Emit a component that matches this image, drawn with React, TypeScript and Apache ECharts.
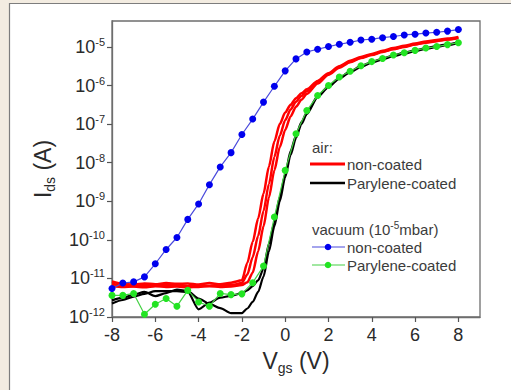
import React, { useEffect, useRef } from 'react';
import * as echarts from 'echarts';

// Gate voltage grids (V)
const VAC_VGS = [-8, -7.5, -7, -6.5, -6, -5.5, -5, -4.5, -4, -3.5, -3, -2.5, -2, -1.5, -1, -0.5, 0, 0.5, 1, 1.5, 2, 2.5, 3, 3.5, 4, 4.5, 5, 5.5, 6, 6.5, 7, 7.5, 8];
const AIR_VGS = [-8, -7.5, -7, -6.5, -6, -5.5, -5, -4.5, -4, -3.5, -3, -2.5, -2, -1.75, -1.5, -1.25, -1, -0.75, -0.5, -0.25, 0, 0.25, 0.5, 0.75, 1, 1.5, 2, 2.5, 3, 3.5, 4, 4.5, 5, 5.5, 6, 6.5, 7, 7.5, 8];

// log10(Ids / A)
const VAC_NONCOATED_LOG = [-11.26, -11.12, -11.09, -10.96, -10.62, -10.25, -9.94, -9.47, -9.07, -8.57, -8.11, -7.74, -7.27, -6.87, -6.43, -6.02, -5.62, -5.31, -5.13, -5.06, -4.99, -4.93, -4.88, -4.82, -4.80, -4.76, -4.73, -4.69, -4.67, -4.64, -4.62, -4.59, -4.55];
const VAC_PARYLENE_LOG = [-11.44, -11.44, -11.39, -11.93, -11.67, -11.52, -11.72, -11.31, -11.61, -11.72, -11.39, -11.42, -11.40, -11.11, -10.68, -9.41, -8.20, -7.25, -6.65, -6.26, -6.00, -5.78, -5.63, -5.49, -5.38, -5.30, -5.21, -5.15, -5.09, -5.03, -4.99, -4.94, -4.89];

const AIR_NONCOATED_A_LOG = [-11.08, -11.14, -11.16, -11.13, -11.15, -11.12, -11.14, -11.13, -11.16, -11.12, -11.15, -11.11, -11.05, -10.6, -10.05, -9.45, -8.8, -8.1, -7.45, -7.0, -6.7, -6.5, -6.33, -6.2, -6.1, -5.88, -5.68, -5.5, -5.36, -5.26, -5.18, -5.1, -5.03, -4.97, -4.91, -4.86, -4.82, -4.78, -4.74];
const AIR_NONCOATED_B_LOG = [-11.14, -11.18, -11.2, -11.17, -11.19, -11.17, -11.18, -11.2, -11.18, -11.19, -11.17, -11.18, -11.12, -10.9, -10.45, -9.9, -9.25, -8.55, -7.85, -7.3, -6.9, -6.62, -6.42, -6.27, -6.15, -5.91, -5.7, -5.52, -5.38, -5.28, -5.2, -5.12, -5.05, -4.99, -4.93, -4.88, -4.84, -4.8, -4.76];
const AIR_NONCOATED_C_LOG = [-11.2, -11.22, -11.21, -11.23, -11.2, -11.22, -11.21, -11.23, -11.22, -11.2, -11.22, -11.21, -11.17, -11.1, -10.85, -10.3, -9.65, -8.9, -8.2, -7.6, -7.15, -6.8, -6.55, -6.37, -6.22, -5.95, -5.72, -5.54, -5.4, -5.29, -5.21, -5.13, -5.06, -5.0, -4.94, -4.89, -4.85, -4.81, -4.77];
const AIR_PARYLENE_A_LOG = [-11.65, -11.56, -11.47, -11.4, -11.33, -11.33, -11.33, -11.35, -11.8, -11.63, -11.5, -11.45, -11.38, -11.31, -11.2, -11.05, -10.75, -10.1, -9.55, -8.9, -8.3, -7.7, -7.3, -6.95, -6.7, -6.28, -6.02, -5.8, -5.64, -5.5, -5.39, -5.3, -5.22, -5.15, -5.09, -5.03, -4.98, -4.93, -4.88];
const AIR_PARYLENE_B_LOG = [-11.57, -11.5, -11.42, -11.35, -11.46, -11.38, -11.29, -11.33, -11.52, -11.66, -11.77, -11.9, -11.9, -11.78, -11.61, -11.35, -10.95, -10.3, -9.65, -9.0, -8.38, -7.8, -7.36, -7.0, -6.74, -6.3, -6.04, -5.82, -5.66, -5.52, -5.41, -5.32, -5.24, -5.17, -5.11, -5.05, -5.0, -4.95, -4.9];

const X_TICKS = [-8, -6, -4, -2, 0, 2, 4, 6, 8];
const Y_TICKS = [1e-12, 1e-11, 1e-10, 1e-9, 1e-8, 1e-7, 1e-6, 1e-5];

const FONT = '"Liberation Sans", Arial, Helvetica, sans-serif';
const TXT = '#2a2a2a';
const AXIS = '#6e6e6e';

const toPairs = (xs: number[], logs: number[]) => xs.map((x, i) => [x, 10 ** logs[i]]);

export default function App() {
  const ref = useRef<HTMLDivElement>(null);

  useEffect(() => {
    if (!ref.current) return;
    const chart = echarts.init(ref.current, undefined, { renderer: 'svg' });

    const airLine = (name: string, logs: number[], color: string, width: number) => ({
      name,
      type: 'line',
      data: toPairs(AIR_VGS, logs),
      symbol: 'none',
      showSymbol: false,
      smooth: 0.25,
      smoothMonotone: 'x',
      lineStyle: { color, width },
      itemStyle: { color },
      silent: true,
      z: 2,
    });

    const legendText = (x: number, y: number, text: string) => ({
      type: 'text',
      x,
      y,
      z: 100,
      style: { text, fontSize: 15, fontFamily: FONT, fill: '#3c3c3c', verticalAlign: 'middle', align: 'left' },
    });

    const option = {
      animation: false,
      backgroundColor: '#f3ece1',
      grid: {
        left: 112,
        right: 31,
        top: 21,
        bottom: 73,
        show: true,
        borderColor: AXIS,
        borderWidth: 1.3,
        backgroundColor: 'transparent',
        containLabel: false,
        outerBoundsMode: 'none',
      },
      xAxis: {
        type: 'value',
        min: -8,
        max: 9,
        interval: 2,
        axisLine: { show: true, onZero: false, lineStyle: { color: AXIS, width: 1.3 } },
        splitLine: { show: false },
        axisTick: { show: true, length: 5, lineStyle: { color: '#555', width: 1.2 }, customValues: X_TICKS },
        axisLabel: { customValues: X_TICKS, margin: 9, fontSize: 18, color: TXT, fontFamily: FONT },
        name: '{i|V}{sub|gs}{i| (V)}',
        nameLocation: 'middle',
        nameGap: 30,
        nameTextStyle: {
          rich: {
            i: { fontSize: 23, fontFamily: FONT, color: TXT, lineHeight: 28 },
            sub: { fontSize: 14, fontFamily: FONT, color: TXT, lineHeight: 14, verticalAlign: 'bottom' },
          },
        },
      },
      yAxis: {
        type: 'log',
        logBase: 10,
        min: 1e-12,
        max: 4.7e-5,
        axisLine: { show: true, onZero: false, lineStyle: { color: AXIS, width: 1.3 } },
        splitLine: { show: false },
        minorTick: { show: false },
        axisTick: { show: true, length: 5, lineStyle: { color: '#555', width: 1.2 }, customValues: Y_TICKS },
        axisLabel: {
          customValues: Y_TICKS,
          margin: 7,
          formatter: (v: number) => `{b|10}{s|${Math.round(Math.log10(v))}}`,
          rich: {
            b: { fontSize: 18, fontFamily: FONT, color: TXT, lineHeight: 21 },
            s: { fontSize: 11, fontFamily: FONT, color: TXT, lineHeight: 12, verticalAlign: 'top' },
          },
        },
        name: '{i|I}{sub|ds}{i| (A)}',
        nameLocation: 'middle',
        nameRotate: 90,
        nameGap: 55,
        nameTextStyle: {
          rich: {
            i: { fontSize: 23, fontFamily: FONT, color: TXT, lineHeight: 28 },
            sub: { fontSize: 14, fontFamily: FONT, color: TXT, lineHeight: 14, verticalAlign: 'bottom' },
          },
        },
      },
      series: [
        airLine('air Parylene-coated 1', AIR_PARYLENE_A_LOG, '#000000', 2.2),
        airLine('air Parylene-coated 2', AIR_PARYLENE_B_LOG, '#000000', 2.2),
        airLine('air non-coated 1', AIR_NONCOATED_A_LOG, '#ff0000', 2.5),
        airLine('air non-coated 2', AIR_NONCOATED_B_LOG, '#ff0000', 2.5),
        airLine('air non-coated 3', AIR_NONCOATED_C_LOG, '#ff0000', 2.5),
        {
          name: 'vacuum Parylene-coated',
          type: 'line',
          data: toPairs(VAC_VGS, VAC_PARYLENE_LOG),
          symbol: 'circle',
          symbolSize: 7,
          itemStyle: { color: '#22e422' },
          lineStyle: { color: '#44d044', width: 1.2 },
          silent: true,
          z: 3,
        },
        {
          name: 'vacuum non-coated',
          type: 'line',
          data: toPairs(VAC_VGS, VAC_NONCOATED_LOG),
          symbol: 'circle',
          symbolSize: 7,
          itemStyle: { color: '#0000ee' },
          lineStyle: { color: '#4b4bdc', width: 1.2 },
          silent: true,
          z: 4,
        },
      ],
      graphic: {
        elements: [
          {
            type: 'rect',
            z: -100,
            silent: true,
            shape: { x: 9.5, y: 3.5, width: 540, height: 420 },
            style: { fill: '#ffffff', stroke: '#7d7d7d', lineWidth: 1.2 },
          },
          legendText(312, 147, 'air:'),
          { type: 'line', z: 100, shape: { x1: 310, y1: 164, x2: 345, y2: 164 }, style: { stroke: '#ff0000', lineWidth: 3 } },
          legendText(347, 164, 'non-coated'),
          { type: 'line', z: 100, shape: { x1: 310, y1: 183, x2: 345, y2: 183 }, style: { stroke: '#000000', lineWidth: 2.5 } },
          legendText(347, 183, 'Parylene-coated'),
          {
            type: 'text',
            x: 312,
            y: 229,
            z: 100,
            style: {
              text: '{t|vacuum (10}{s|-5}{t|mbar)}',
              verticalAlign: 'middle',
              align: 'left',
              rich: {
                t: { fontSize: 15, fontFamily: FONT, fill: '#3c3c3c', color: '#3c3c3c', lineHeight: 18 },
                s: { fontSize: 10, fontFamily: FONT, fill: '#3c3c3c', color: '#3c3c3c', lineHeight: 11, verticalAlign: 'top' },
              },
            },
          },
          { type: 'line', z: 100, shape: { x1: 312, y1: 247, x2: 345, y2: 247 }, style: { stroke: '#4b4bdc', lineWidth: 1.2 } },
          { type: 'circle', z: 101, shape: { cx: 328, cy: 247, r: 3.3 }, style: { fill: '#0000ee' } },
          legendText(347, 247, 'non-coated'),
          { type: 'line', z: 100, shape: { x1: 312, y1: 265, x2: 345, y2: 265 }, style: { stroke: '#44d044', lineWidth: 1.2 } },
          { type: 'circle', z: 101, shape: { cx: 328, cy: 265, r: 3.3 }, style: { fill: '#22e422' } },
          legendText(347, 265, 'Parylene-coated'),
        ],
      },
    };

    chart.setOption(option as any);
    return () => chart.dispose();
  }, []);

  return <div ref={ref} style={{ position: 'absolute', left: 0, top: 0, width: 511, height: 390 }} />;
}
